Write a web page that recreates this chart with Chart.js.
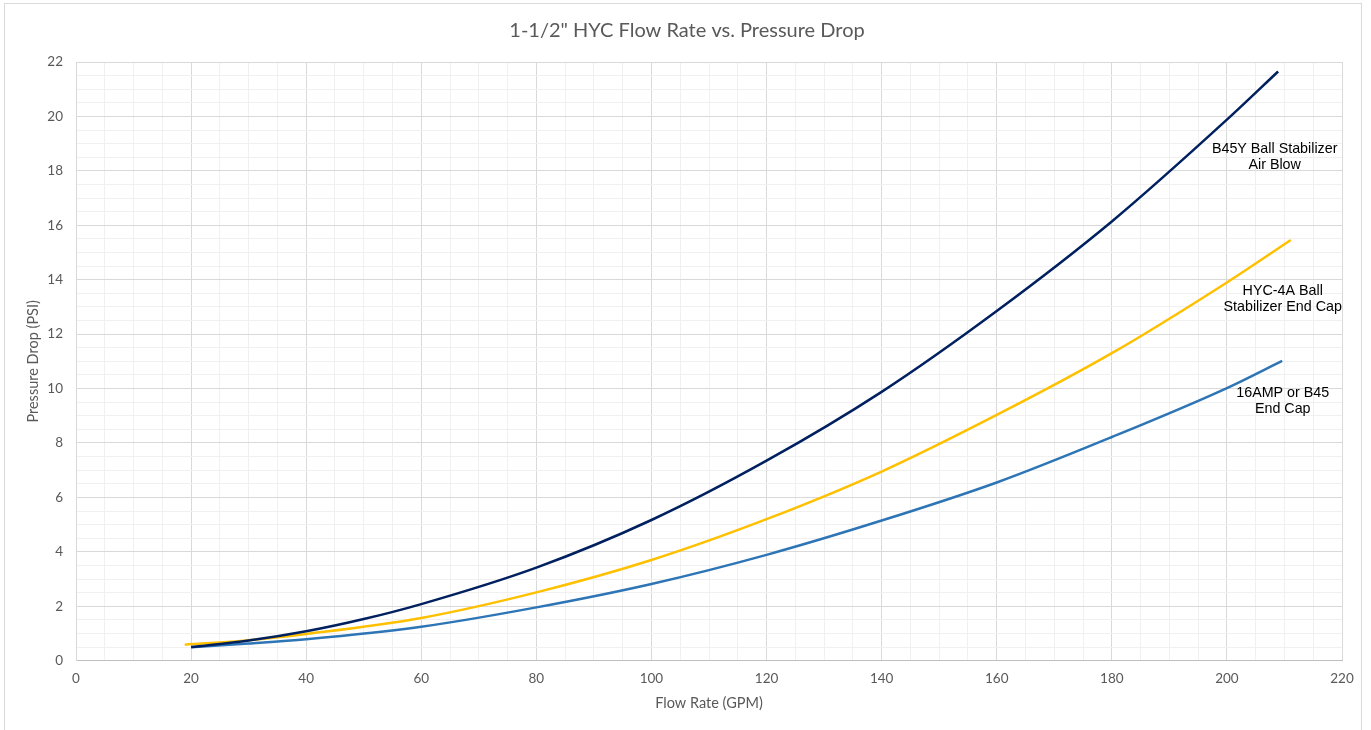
<!DOCTYPE html>
<html>
<head>
<meta charset="utf-8">
<script src="https://cdn.jsdelivr.net/npm/chart.js@4.4.1/dist/chart.umd.min.js"></script>
<style>
  html, body { margin: 0; padding: 0; background: #ffffff; }
  #wrap { position: absolute; left: 0; top: 0; width: 1371px; height: 730px; }
</style>
</head>
<body>
<div id="wrap"><canvas id="c"></canvas></div>
<script>
// ---- data ----
const chartTitle = '1-1/2" HYC Flow Rate vs. Pressure Drop';
const xAxisTitle = 'Flow Rate (GPM)';
const yAxisTitle = 'Pressure Drop (PSI)';

const seriesNames = ['B45Y Ball Stabilizer Air Blow', 'HYC-4A Ball Stabilizer End Cap', '16AMP or B45 End Cap'];

const flowB45Y = [20, 30, 40, 50, 60, 80, 100, 120, 140, 160, 180, 200, 208.9];
const psiB45Y  = [0.5, 0.74, 1.08, 1.53, 2.08, 3.42, 5.17, 7.35, 9.88, 12.85, 16.14, 19.88, 21.65];

const flowHYC4A = [18.9, 30, 40, 60, 80, 100, 120, 140, 160, 180, 200, 211.1];
const psiHYC4A  = [0.59, 0.75, 0.98, 1.57, 2.51, 3.70, 5.20, 6.95, 9.03, 11.30, 13.90, 15.46];

const flow16AMP = [20, 30, 40, 60, 80, 100, 120, 140, 160, 180, 200, 209.6];
const psi16AMP  = [0.49, 0.63, 0.79, 1.25, 1.96, 2.82, 3.89, 5.15, 6.55, 8.22, 10.02, 11.02];

// curve label text lines
const labelB45Y  = ['B45Y Ball Stabilizer', 'Air Blow'];
const labelHYC4A = ['HYC-4A Ball', 'Stabilizer End Cap'];
const label16AMP = ['16AMP or B45', 'End Cap'];

const xMin = 0, xMax = 220, xMinorStep = 5, xMajorStep = 20;
const yMin = 0, yMax = 22, yMinorStep = 0.5, yMajorStep = 2;

// ---- build ----
function pts(xs, ys) { return xs.map((x, i) => ({ x: x, y: ys[i] })); }

const FONT = 'Lato, "Open Sans", "Liberation Sans", sans-serif';
const GRAY = '#595959';

const decor = {
  id: 'decor',
  beforeDraw(chart) {
    const ctx = chart.ctx;
    ctx.save();
    ctx.fillStyle = '#ffffff';
    ctx.fillRect(0, 0, chart.width, chart.height);
    ctx.strokeStyle = '#d9d9d9';
    ctx.lineWidth = 1;
    ctx.strokeRect(4.5, 3.5, 1357, 740);
    ctx.restore();
  },
  afterDraw(chart) {
    const ctx = chart.ctx;
    const xs = chart.scales.x, ys = chart.scales.y;
    const area = chart.chartArea;
    ctx.save();
    // title
    ctx.fillStyle = GRAY;
    ctx.textAlign = 'center';
    ctx.textBaseline = 'middle';
    ctx.font = '20px ' + FONT;
    ctx.fillText(chartTitle, 687, 31);
    // axis titles
    ctx.font = '14.5px ' + FONT;
    ctx.fillText(xAxisTitle, (area.left + area.right) / 2, 703);
    ctx.save();
    ctx.translate(33, (area.top + area.bottom) / 2);
    ctx.rotate(-Math.PI / 2);
    ctx.fillText(yAxisTitle, 0, 0);
    ctx.restore();
    // curve labels
    ctx.fillStyle = '#000000';
    ctx.font = '14.3px "Liberation Sans", Arial, sans-serif';
    const labels = [[labelB45Y, 208.3, 18.49], [labelHYC4A, 209.7, 13.29], [label16AMP, 209.7, 9.54]];
    labels.forEach(([lines, lx, ly]) => {
      const px = xs.getPixelForValue(lx);
      const py = ys.getPixelForValue(ly);
      ctx.fillText(lines[0], px, py - 8);
      ctx.fillText(lines[1], px, py + 8);
    });
    ctx.restore();
  }
};

new Chart(document.getElementById('c'), {
  type: 'line',
  data: {
    datasets: [
      { label: seriesNames[0], data: pts(flowB45Y, psiB45Y), borderColor: '#002060', borderWidth: 2.5 },
      { label: seriesNames[1], data: pts(flowHYC4A, psiHYC4A), borderColor: '#FFC000', borderWidth: 2.5 },
      { label: seriesNames[2], data: pts(flow16AMP, psi16AMP), borderColor: '#2E75B6', borderWidth: 2.5 }
    ]
  },
  options: {
    responsive: true,
    maintainAspectRatio: false,
    animation: false,
    devicePixelRatio: 1,
    elements: {
      point: { radius: 0, hoverRadius: 0 },
      line: { cubicInterpolationMode: 'monotone', fill: false, borderCapStyle: 'butt' }
    },
    layout: { padding: { left: 0, right: 29, top: 62, bottom: 0 } },
    plugins: { legend: { display: false }, title: { display: false }, tooltip: { enabled: false } },
    scales: {
      x: {
        type: 'linear', min: xMin, max: xMax,
        afterFit(s) { s.height = 69.3; },
        ticks: {
          stepSize: xMinorStep, autoSkip: false, maxRotation: 0, padding: 10,
          color: GRAY, font: { family: FONT, size: 13.5 },
          callback: v => (Math.abs(v % xMajorStep) < 1e-9 ? String(v) : '')
        },
        grid: {
          drawTicks: false,
          color: c => (c.tick && Math.abs(c.tick.value % xMajorStep) < 1e-9 ? '#d9d9d9' : '#f0f0f0'),
          lineWidth: 1
        },
        border: { color: '#bfbfbf', width: 1 }
      },
      y: {
        type: 'linear', min: yMin, max: yMax,
        afterFit(s) { s.width = 76; },
        ticks: {
          stepSize: yMinorStep, autoSkip: false, padding: 13,
          color: GRAY, font: { family: FONT, size: 13.5 },
          callback: v => (Math.abs(v % yMajorStep) < 1e-9 ? String(v) : '')
        },
        grid: {
          drawTicks: false,
          color: c => (c.tick && Math.abs(c.tick.value % yMajorStep) < 1e-9 ? '#d9d9d9' : '#f0f0f0'),
          lineWidth: 1
        },
        border: { color: '#d9d9d9', width: 1 }
      }
    }
  },
  plugins: [decor]
});
</script>
</body>
</html>
